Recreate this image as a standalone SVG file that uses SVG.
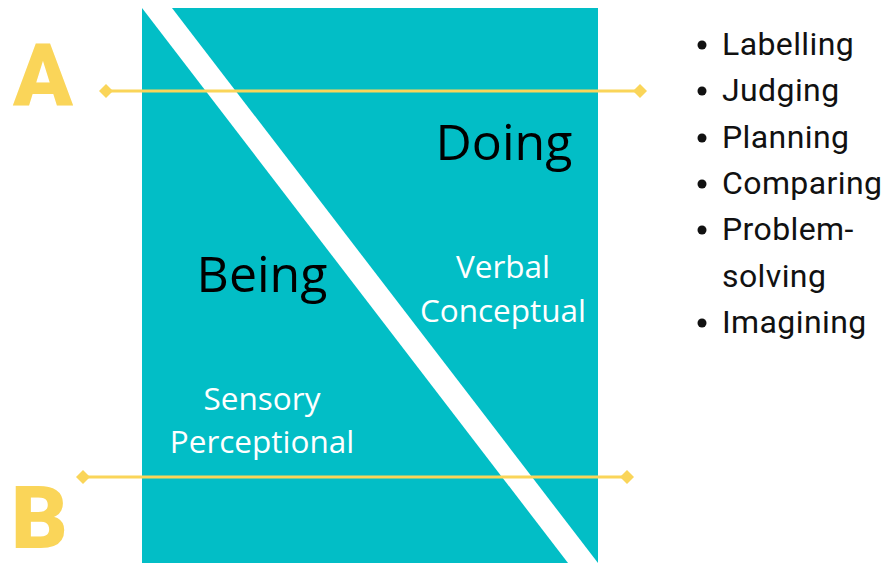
<svg xmlns="http://www.w3.org/2000/svg" width="889" height="563" viewBox="0 0 889 563">
  <style>
    .panel { fill: #02BEC6; }
    .gap { fill: #ffffff; }
    .axis { stroke: #FAD559; stroke-width: 3; fill: none; }
    .tip { fill: #FAD559; }
    .mark { font-family: Roboto, "Liberation Sans", sans-serif; font-weight: 900; font-size: 88px; fill: #FAD559; }
    .mode { font-family: "Open Sans", "Liberation Sans", sans-serif; font-size: 50px; fill: #000000; text-anchor: middle; }
    .sub { font-family: "Open Sans", "Liberation Sans", sans-serif; font-size: 31.5px; fill: #ffffff; text-anchor: middle; }
    .item { font-family: Roboto, "Liberation Sans", sans-serif; font-size: 32px; letter-spacing: 0.4px; fill: #111111; }
  </style>
  <defs>
    <polygon id="diamond" points="0,-7 7,0 0,7 -7,0" class="tip"/>
  </defs>
  <rect width="889" height="563" fill="#ffffff"/>

  <!-- square split by a white diagonal band -->
  <g id="square">
    <rect class="panel" x="142" y="8" width="456" height="555"/>
    <polygon class="gap" points="142,8 172,8 598,563 568,563"/>
  </g>

  <g id="being">
    <text class="mode" x="262" y="292">Being</text>
    <text class="sub" x="262" y="410">Sensory</text>
    <text class="sub" x="262" y="453">Perceptional</text>
  </g>

  <g id="doing">
    <text class="mode" x="504" y="160">Doing</text>
    <text class="sub" x="503" y="278">Verbal</text>
    <text class="sub" x="503" y="322">Conceptual</text>
  </g>

  <!-- horizontal levels A and B -->
  <g id="connectors">
    <line class="axis" x1="106" y1="91" x2="640" y2="91"/>
    <use href="#diamond" x="106" y="91"/>
    <use href="#diamond" x="640" y="91"/>
    <line class="axis" x1="83" y1="477" x2="627" y2="477"/>
    <use href="#diamond" x="83" y="477"/>
    <use href="#diamond" x="627" y="477"/>
  </g>

  <g id="label-a">
    <text class="mark" x="13" y="106">A</text>
  </g>
  <g id="label-b">
    <text class="mark" x="11" y="548">B</text>
  </g>

  <g id="activities">
    <circle cx="702" cy="45" r="4.5" fill="#111111"/>
    <text class="item" x="722" y="55">Labelling</text>
    <circle cx="702" cy="91" r="4.5" fill="#111111"/>
    <text class="item" x="722" y="101">Judging</text>
    <circle cx="702" cy="138" r="4.5" fill="#111111"/>
    <text class="item" x="722" y="148">Planning</text>
    <circle cx="702" cy="184" r="4.5" fill="#111111"/>
    <text class="item" x="722" y="194">Comparing</text>
    <circle cx="702" cy="230" r="4.5" fill="#111111"/>
    <text class="item" x="722" y="240">Problem-</text>
    <text class="item" x="722" y="287">solving</text>
    <circle cx="702" cy="323" r="4.5" fill="#111111"/>
    <text class="item" x="722" y="333">Imagining</text>
  </g>
</svg>
